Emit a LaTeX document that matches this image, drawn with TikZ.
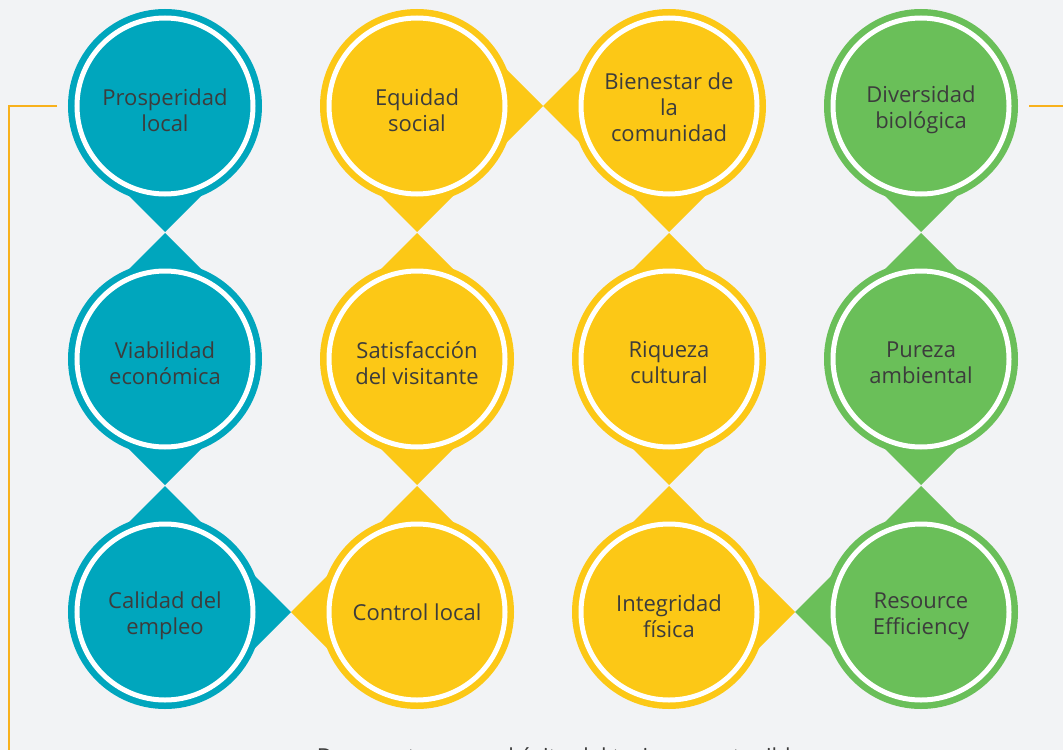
\documentclass[tikz,border=0pt]{standalone}
\usepackage{fontspec}
\setmainfont{Open Sans}
\definecolor{bg}{HTML}{F2F3F5}
\definecolor{cteal}{HTML}{00A6BD}
\definecolor{cyel}{HTML}{FCC816}
\definecolor{cgreen}{HTML}{6ABF59}
\definecolor{corange}{HTML}{F8B11C}
\definecolor{ctext}{HTML}{3C3C3C}
\tikzset{
  bub/.style={circle, minimum size=194bp, inner sep=0pt, draw=none, fill=#1},
  lbl/.style={text=ctext, align=center, inner sep=0pt, font=\fontsize{22bp}{26bp}\selectfont},
  ring/.style={draw=white, line width=5bp},
  link/.style={draw=corange, line width=2.6bp},
}
\newcommand\tipD[2]{\fill[#2] (#1.center) ++(0,126) -- ++(-60,-60) -- ++(120,0) -- cycle;}
\newcommand\tipU[2]{\fill[#2] (#1.center) ++(0,-126) -- ++(-60,60) -- ++(120,0) -- cycle;}
\newcommand\tipR[2]{\fill[#2] (#1.center) ++(126,0) -- ++(-60,-60) -- ++(0,120) -- cycle;}
\newcommand\tipL[2]{\fill[#2] (#1.center) ++(-126,0) -- ++(60,-60) -- ++(0,120) -- cycle;}
\newcommand\ringat[1]{\draw[ring] (#1.center) circle (88bp);}
\newcommand\txt[4][4]{\path (#2.center) ++(0,#1) node[lbl] (#3) {#4};}
\begin{document}
\begin{tikzpicture}[x=1bp, y=-1bp]
\fill[bg] (0,0) rectangle (1063,750);
\useasboundingbox (0,0) rectangle (1063,750);
% circles
\node[bub=cteal] (a1) at (165,106) {};
\node[bub=cteal] (a2) at (165,359) {};
\node[bub=cteal] (a3) at (165,612) {};
\node[bub=cyel] (b1) at (417,106) {};
\node[bub=cyel] (b2) at (417,359) {};
\node[bub=cyel] (b3) at (417,612) {};
\node[bub=cyel] (c1) at (669,106) {};
\node[bub=cyel] (c2) at (669,359) {};
\node[bub=cyel] (c3) at (669,612) {};
\node[bub=cgreen] (d1) at (921,106) {};
\node[bub=cgreen] (d2) at (921,359) {};
\node[bub=cgreen] (d3) at (921,612) {};
% tips
\tipD{a1}{cteal} \tipU{a2}{cteal} \tipD{a2}{cteal} \tipU{a3}{cteal} \tipR{a3}{cteal}
\tipD{b1}{cyel} \tipR{b1}{cyel} \tipU{b2}{cyel} \tipD{b2}{cyel} \tipU{b3}{cyel} \tipL{b3}{cyel}
\tipL{c1}{cyel} \tipD{c1}{cyel} \tipU{c2}{cyel} \tipD{c2}{cyel} \tipU{c3}{cyel} \tipR{c3}{cyel}
\tipD{d1}{cgreen} \tipU{d2}{cgreen} \tipD{d2}{cgreen} \tipU{d3}{cgreen} \tipL{d3}{cgreen}
% rings
\foreach \n in {a1,a2,a3,b1,b2,b3,c1,c2,c3,d1,d2,d3} {\ringat{\n}}
% labels
\txt{a1}{ta1}{Prosperidad\\local}
\txt{a2}{ta2}{Viabilidad\\económica}
\txt{a3}{ta3}{Calidad del\\empleo}
\txt{b1}{tb1}{Equidad\\social}
\txt{b2}{tb2}{Satisfacción\\del visitante}
\txt[0]{b3}{tb3}{Control local}
\txt[1]{c1}{tc1}{Bienestar de\\la\\comunidad}
\txt{c2}{tc2}{Riqueza\\cultural}
\txt{c3}{tc3}{Integridad\\física}
\txt{d1}{td1}{Diversidad\\biológica}
\txt{d2}{td2}{Pureza\\ambiental}
\txt{d3}{td3}{Resource\\Efficiency}
% orange links
\coordinate (lend) at (57,106);
\coordinate (lcorner) at (9,106);
\coordinate (lbot) at (9,752);
\coordinate (rstart) at (1029,106);
\coordinate (rend) at (1065,106);
\draw[link] (lend) -- (lcorner) -- (lbot);
\draw[link] (rstart) -- (rend);
% caption (cut off at the bottom, as in the reference)
\node[anchor=base, text=ctext, font=\fontsize{22bp}{26bp}\selectfont] (cap) at (560,764) {Doce metas para el éxito del turismo sostenible};
\end{tikzpicture}
\end{document}
